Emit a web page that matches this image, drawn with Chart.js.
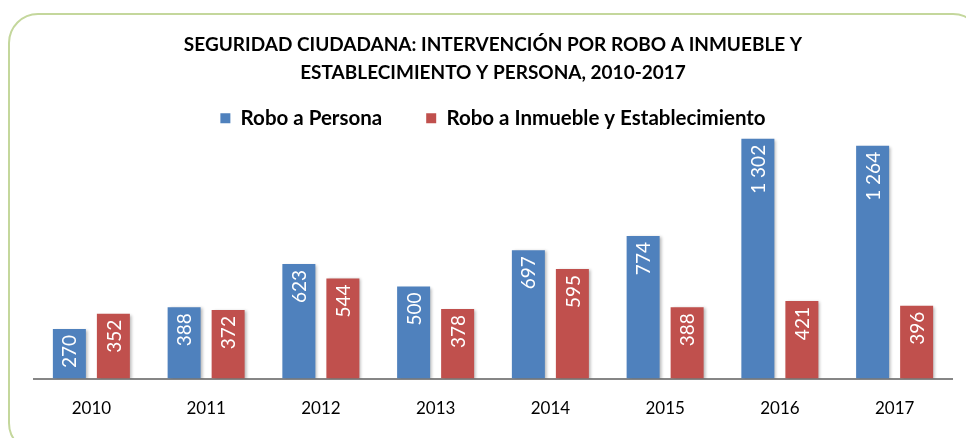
<!DOCTYPE html>
<html>
<head>
<meta charset="utf-8">
<script src="https://cdn.jsdelivr.net/npm/chart.js@4/dist/chart.umd.min.js"></script>
<style>
  html, body { margin: 0; padding: 0; background: #fff; }
  #wrap { position: relative; width: 966px; height: 438px; overflow: hidden; }
  #frame { position: absolute; left: 8px; top: 13px; width: 975px; height: 440px;
           border: 2px solid #c4d79c; border-radius: 30px; box-sizing: border-box; pointer-events: none; }
  canvas { position: absolute; left: 0; top: 0; }
</style>
</head>
<body>
<div id="wrap">
  <canvas id="c" width="966" height="438"></canvas>
  <div id="frame"></div>
</div>
<script>
const years = ['2010', '2011', '2012', '2013', '2014', '2015', '2016', '2017'];
const roboPersona = [270, 388, 623, 500, 697, 774, 1302, 1264];
const roboInmueble = [352, 372, 544, 378, 595, 388, 421, 396];
const seriesNames = ['Robo a Persona', 'Robo a Inmueble y Establecimiento'];
const titleLines = ['SEGURIDAD CIUDADANA: INTERVENCIÓN POR ROBO A INMUEBLE Y',
                    'ESTABLECIMIENTO Y PERSONA, 2010-2017'];

const FONT = 'Lato, "Open Sans", sans-serif';

function fmt(v) {
  return String(v).replace(/\B(?=(\d{3})+(?!\d))/g, ' ');
}

const shadowPlugin = {
  id: 'barShadow',
  beforeDatasetsDraw(chart) {
    const ctx = chart.ctx;
    ctx.save();
    ctx.shadowColor = 'rgba(0,0,0,0.28)';
    ctx.shadowBlur = 3;
    ctx.shadowOffsetX = 2;
    ctx.shadowOffsetY = 1;
  },
  afterDatasetsDraw(chart) {
    chart.ctx.restore();
  }
};

const labelPlugin = {
  id: 'barLabels',
  afterDraw(chart) {
    const ctx = chart.ctx;
    ctx.save();
    ctx.fillStyle = '#ffffff';
    ctx.font = '19px ' + FONT;
    ctx.textAlign = 'right';
    ctx.textBaseline = 'middle';
    chart.data.datasets.forEach((ds, i) => {
      const meta = chart.getDatasetMeta(i);
      meta.data.forEach((bar, j) => {
        ctx.save();
        ctx.translate(bar.x, bar.y + 6);
        ctx.rotate(-Math.PI / 2);
        ctx.fillText(fmt(ds.data[j]), 0, 1);
        ctx.restore();
      });
    });
    ctx.restore();
  }
};

new Chart(document.getElementById('c'), {
  type: 'bar',
  data: {
    labels: years,
    datasets: [
      { label: seriesNames[0], data: roboPersona, backgroundColor: '#4f81bd' },
      { label: seriesNames[1], data: roboInmueble, backgroundColor: '#c0504d' }
    ]
  },
  options: {
    responsive: false,
    animation: false,
    devicePixelRatio: 1,
    categoryPercentage: 0.767,
    barPercentage: 0.75,
    layout: { padding: { left: 34, right: 14, top: 31, bottom: 7 } },
    plugins: {
      title: {
        display: true,
        text: titleLines,
        color: '#000',
        font: { family: FONT, size: 19, weight: 'bold', lineHeight: 28 / 19 },
        padding: { top: 0, bottom: -23 }
      },
      legend: {
        display: true,
        maxHeight: 66,
        labels: {
          color: '#000',
          font: { family: FONT, size: 20.5, weight: 'bold' },
          boxWidth: 10,
          boxHeight: 10,
          padding: 44
        }
      },
      tooltip: { enabled: false }
    },
    scales: {
      x: {
        grid: { display: false },
        border: { display: true, color: '#868686', width: 2 },
        ticks: { color: '#000', font: { family: FONT, size: 17 }, padding: 12 }
      },
      y: {
        display: false,
        min: 0,
        max: 1350
      }
    }
  },
  plugins: [shadowPlugin, labelPlugin]
});
</script>
</body>
</html>
